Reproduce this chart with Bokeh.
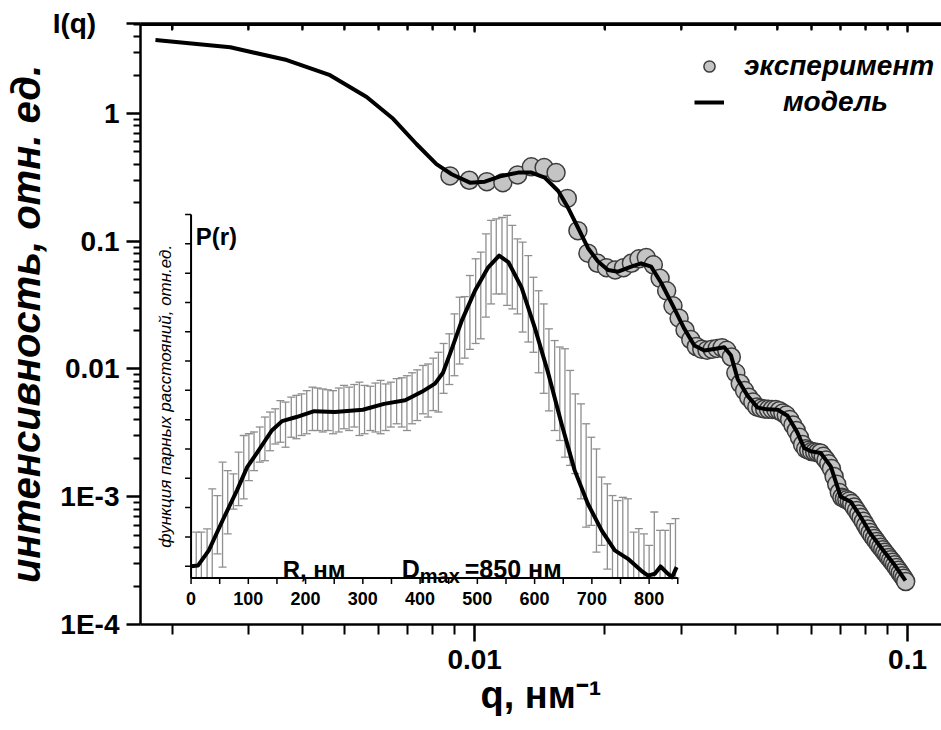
import math
from bokeh.plotting import figure
from bokeh.models import (Range1d, LogAxis, FixedTicker, Legend, LegendItem,
                          Whisker, TeeHead, ColumnDataSource, Label, LinearScale)
from bokeh.embed import file_html
from bokeh.resources import INLINE
from bokeh.core.properties import value

FONT = "Liberation Sans"
NB = "\u00a0"

# ---------------- main curve I(q): model ----------------
q_model = [0.001831, 0.002726, 0.003682, 0.004634, 0.005631, 0.006483, 0.007338, 0.008161,
           0.008851, 0.009754, 0.01056, 0.01154, 0.01261, 0.01353, 0.01452, 0.0156, 0.01644,
           0.01734, 0.01828, 0.01928, 0.02033, 0.02144, 0.023, 0.02425, 0.02557, 0.02697,
           0.02893, 0.03051, 0.03217, 0.03392, 0.03577, 0.03773, 0.03911, 0.04052, 0.04272,
           0.04505, 0.04751, 0.0501, 0.05282, 0.0557, 0.05769, 0.05977, 0.06301, 0.06646,
           0.07007, 0.07389, 0.07792, 0.08217, 0.08666, 0.09298, 0.0989]
I_model = [3.764, 3.297, 2.618, 1.994, 1.345, 0.908, 0.5768, 0.4013, 0.3345, 0.2872, 0.2924,
           0.3243, 0.3443, 0.3443, 0.3145, 0.2471, 0.1824, 0.1269, 0.0882, 0.06929, 0.05959,
           0.05778, 0.06327, 0.06718, 0.06327, 0.04733, 0.02969, 0.02064, 0.01527, 0.01394,
           0.01435, 0.01481, 0.01273, 0.008323, 0.006158, 0.004981, 0.004829, 0.004802,
           0.004306, 0.003162, 0.002408, 0.002268, 0.002199, 0.001728, 0.001002, 0.000915,
           0.000697, 0.000514, 0.000404, 0.000298, 0.0002203]

# ---------------- main curve I(q): experiment ----------------
q_exp = [0.00877, 0.00972, 0.01067, 0.01162, 0.01257, 0.01352, 0.01447, 0.01542, 0.01637,
         0.01732, 0.01827, 0.01922, 0.02017, 0.02112, 0.02207, 0.02302, 0.02397, 0.02492,
         0.02587, 0.02682, 0.02777, 0.02872, 0.02967, 0.03062, 0.03157, 0.03252, 0.03347,
         0.03442, 0.03537, 0.03632, 0.03727, 0.03822, 0.03917, 0.04012, 0.04107, 0.04202,
         0.04297, 0.04392, 0.04487, 0.04582, 0.04677, 0.04772, 0.04867, 0.04962, 0.05057,
         0.05152, 0.05247, 0.05342, 0.05437, 0.05532, 0.05627, 0.05722, 0.05817, 0.05912,
         0.06007, 0.06102, 0.06197, 0.06292, 0.06387, 0.06482, 0.06577, 0.06672, 0.06767,
         0.06862, 0.06957, 0.07052, 0.07147, 0.07242, 0.07337, 0.07432, 0.07527, 0.07622,
         0.07717, 0.07812, 0.07907, 0.08002, 0.08097, 0.08192, 0.08287, 0.08382, 0.08477,
         0.08572, 0.08667, 0.08762, 0.08857, 0.08952, 0.09047, 0.09142, 0.09237, 0.09332,
         0.09427, 0.09522, 0.09617, 0.09712, 0.09807, 0.09902]
I_exp = [0.3243, 0.3000, 0.2924, 0.2872, 0.3303, 0.3819, 0.3771, 0.3443, 0.2163, 0.1210,
         0.0806, 0.0672, 0.0621, 0.0596, 0.0621, 0.0672, 0.0728, 0.0745, 0.0653, 0.0512,
         0.0409, 0.0312, 0.0250, 0.0202, 0.0170, 0.0150, 0.01425, 0.01404, 0.01425, 0.01448,
         0.01469, 0.01399, 0.01241, 0.00933, 0.00770, 0.00677, 0.00601, 0.00551, 0.00505,
         0.00493, 0.00487, 0.00483, 0.00482, 0.00481, 0.00471, 0.00453, 0.00436, 0.00403,
         0.00364, 0.00330, 0.00292, 0.00256, 0.00237, 0.00231, 0.00226, 0.00224, 0.00222,
         0.00220, 0.00207, 0.00194, 0.00181, 0.00166, 0.00144, 0.00125, 0.00108, 0.000991,
         0.000968, 0.000947, 0.000927, 0.000887, 0.000831, 0.000781, 0.000732, 0.000687,
         0.000642, 0.000598, 0.000560, 0.000524, 0.000495, 0.000471, 0.000447, 0.000424,
         0.000403, 0.000385, 0.000367, 0.000351, 0.000335, 0.000321, 0.000307, 0.000293,
         0.000279, 0.000266, 0.000253, 0.000241, 0.000230, 0.000217]

# ---------------- inset P(r) ----------------
r_model = [0, 12, 31, 55, 80, 98, 116, 141, 159, 184, 215, 251, 300, 337, 374, 403, 426, 440,
           456, 473, 496, 519, 538, 554, 577, 600, 624, 647, 670, 693, 717, 740, 763, 786, 798,
           810, 820, 833, 840, 848]
p_model = [0, 0.02, 0.54, 1.56, 2.58, 3.38, 3.89, 4.63, 4.95, 5.09, 5.29, 5.26, 5.34, 5.54,
           5.66, 5.95, 6.23, 6.6, 7.45, 8.39, 9.41, 10.2, 10.6, 10.38, 9.52, 8.16, 6.57, 4.86,
           3.27, 2.13, 1.22, 0.54, 0.25, -0.15, -0.32, -0.26, -0.01, -0.26, -0.38, -0.03]

r_err = [9, 18, 28, 37, 46, 55, 64, 74, 83, 92, 101, 110, 120, 129, 138, 147, 156, 165, 175,
         184, 193, 202, 212, 221, 230, 239, 248, 258, 267, 276, 285, 294, 303, 313, 322, 331,
         340, 349, 359, 368, 377, 386, 395, 405, 414, 423, 432, 441, 451, 460, 469, 478, 487,
         497, 506, 515, 524, 533, 543, 552, 561, 570, 579, 589, 598, 607, 616, 625, 635, 644,
         653, 662, 671, 681, 690, 699, 708, 717, 727, 736, 745, 754, 763, 773, 782, 791, 800,
         809, 819, 828, 837, 846]
err_lo = [-0.4, -0.4, -0.4, -0.4, 0.42, -0.03, 1.1, 1.95, 2.07, 2.3, 2.92, 3.26, 3.55, 3.6,
          3.94, 4.17, 4.23, 4.06, 4.4, 4.35, 4.46, 4.52, 4.63, 4.63, 4.58, 4.63, 4.52, 4.58,
          4.69, 4.63, 4.75, 4.46, 4.52, 4.63, 4.58, 4.52, 4.63, 4.75, 4.86, 4.75, 4.63, 4.86,
          4.97, 5.2, 5.09, 5.31, 5.26, 5.9, 6.2, 6.5, 6.9, 7.1, 7.4, 7.6, 7.76, 8.5, 8.95,
          9.29, 9.29, 8.9, 8.78, 8.61, 7.99, 7.65, 7.3, 6.6, 5.9, 5.3, 4.63, 4.29, 3.72, 3.44,
          3.16, 2.3, 1.33, 1.39, 0.48, 0.71, -0.1, -0.4, -0.4, -0.4, -0.4, -0.4, -0.4, -0.4,
          -0.4, -0.4, -0.4, -0.4, -0.4, -0.4]
err_hi = [1.16, 1.16, 1.27, 2.64, 2.41, 3.55, 3.26, 3.15, 3.89, 4.46, 4.52, 4.58, 4.75, 5.09,
          5.26, 5.37, 5.65, 5.6, 5.77, 5.83, 5.88, 5.99, 6.11, 6.08, 6.05, 6.02, 5.99, 6.08,
          6.17, 6.11, 6.2, 6.28, 6.17, 6.14, 6.25, 6.34, 6.22, 6.28, 6.4, 6.43, 6.5, 6.6, 6.7,
          6.85, 6.9, 7.1, 7.3, 7.6, 7.93, 8.61, 9.18, 9.2, 9.92, 10.49, 10.72, 11.34, 11.8,
          11.85, 11.9, 11.97, 11.63, 11.17, 11.06, 10.6, 9.86, 9.4, 8.95, 8.1, 7.7, 7.48, 7.42,
          6.68, 5.88, 5.54, 4.86, 4.4, 4.0, 3.04, 2.81, 2.41, 2.24, 2.35, 2.3, 1.16, 1.28, 1.1,
          0.71, 1.85, 1.22, 1.22, 1.45, 1.62]

# inset axis definition
r_ticks = [0, 100, 200, 300, 400, 500, 600, 700, 800]
r_tick_labels = ["0", "100", "200", "300", "400", "500", "600", "700", "800"]
r_minor = [50, 150, 250, 350, 450, 550, 650, 750, 850]
r_axis_min, r_axis_max = 0, 850
pr_ticks = [0, 1, 2, 3, 4, 5, 6, 7, 8, 9, 10, 11, 12]
pr_axis_min, pr_axis_max = -0.4, 12

# main axis ticks (the top of the intensity axis carries the "I(q)" caption)
Q_MIN, Q_MAX = 0.001691, 0.1198
I_MIN, I_TOP = 1e-4, 5.06
q_ticks = [0.01, 0.1]
q_minor = [0.002, 0.003, 0.004, 0.005, 0.006, 0.007, 0.008, 0.009,
           0.02, 0.03, 0.04, 0.05, 0.06, 0.07, 0.08, 0.09]
i_ticks = [0.0001, 0.001, 0.01, 0.1, 1.0, I_TOP]
i_minor = [m * d for d in [1e-4, 1e-3, 1e-2, 1e-1, 1] for m in range(2, 10)
           if m * d < I_TOP]
i_labels = {0.0001: "1E-4", 0.001: "1E-3", 0.01: "0.01", 0.1: "0.1", 1.0: "1",
            I_TOP: "I(q)" + NB * 3}
q_labels = {0.01: "0.01", 0.1: "0.1"}

# ---------------- figure ----------------
W, H = 941, 730
FL, FT, FB = 138, 23, 106          # frame borders (left, top, bottom)
FW, FH = W - FL, H - FT - FB
RX = Range1d(-88.3, 1310.6)
RY = Range1d(-1.99, 18.52)
p = figure(width=W, height=H, x_axis_type="log", y_axis_type="log",
           x_range=Range1d(Q_MIN, Q_MAX), y_range=Range1d(I_MIN, I_TOP),
           output_backend="svg", toolbar_location=None,
           min_border_left=FL, min_border_right=0, min_border_top=FT, min_border_bottom=FB)
p.outline_line_color = None
p.xgrid.visible = False
p.ygrid.visible = False

p.extra_x_ranges = {"rx": RX}
p.extra_y_ranges = {"ry": RY}
p.extra_x_scales = {"rx": LinearScale()}
p.extra_y_scales = {"ry": LinearScale()}

# main axes
xa = p.xaxis[0]
xa.ticker = FixedTicker(ticks=q_ticks, minor_ticks=q_minor)
xa.major_label_overrides = q_labels
xa.axis_label = "q, нм⁻¹"
ya = p.yaxis[0]
ya.ticker = FixedTicker(ticks=i_ticks, minor_ticks=i_minor)
ya.major_label_overrides = i_labels
ya.axis_label = "интенсивность, отн. ед."

for ax in (xa, ya):
    ax.axis_line_width = 2.5
    ax.major_tick_line_width = 2.5
    ax.minor_tick_line_width = 2
    ax.major_tick_in = 0
    ax.minor_tick_in = 0
    ax.major_label_text_font = FONT
    ax.major_label_text_font_style = "bold"
    ax.major_label_text_font_size = "28px"
    ax.major_label_text_color = "black"
    ax.axis_label_text_font = FONT
    ax.axis_label_text_color = "black"

xa.major_tick_out = 17
xa.minor_tick_out = 10
xa.major_label_standoff = 8
xa.axis_label_text_font_style = "bold"
xa.axis_label_text_font_size = "38px"
xa.axis_label_standoff = 2

ya.major_tick_out = 14
ya.minor_tick_out = 7
ya.major_label_standoff = 7
ya.axis_label_text_font_style = "bold italic"
ya.axis_label_text_font_size = "40px"
ya.axis_label_standoff = 2

top = LogAxis(ticker=FixedTicker(ticks=q_ticks, minor_ticks=q_minor),
              major_label_text_font_size="4px", major_label_text_alpha=0,
              major_label_standoff=0, axis_line_width=2.5,
              major_tick_in=8, major_tick_out=0, minor_tick_in=6, minor_tick_out=0,
              major_tick_line_width=2, minor_tick_line_width=2)
p.add_layout(top, "above")

# top frame line with inward ticks (drawn in data space so it is always visible)
dec_per_px = math.log10(I_TOP / I_MIN) / FH
p.segment(x0=[Q_MIN], y0=[I_TOP], x1=[Q_MAX], y1=[I_TOP], line_color="black", line_width=5)
p.segment(x0=q_ticks, y0=[I_TOP] * len(q_ticks), x1=q_ticks,
          y1=[I_TOP * 10 ** (-9 * dec_per_px)] * len(q_ticks), line_color="black",
          line_width=2)
p.segment(x0=q_minor, y0=[I_TOP] * len(q_minor), x1=q_minor,
          y1=[I_TOP * 10 ** (-7 * dec_per_px)] * len(q_minor), line_color="black",
          line_width=2)

# ---------------- inset ----------------
bar_col = "#8f8f8f"
err_src = ColumnDataSource(dict(r=r_err, lo=err_lo, hi=err_hi))
w = Whisker(base="r", lower="lo", upper="hi", source=err_src, dimension="height",
            x_range_name="rx", y_range_name="ry", line_color=bar_col, line_width=1.3,
            upper_head=TeeHead(size=8, line_color=bar_col, line_width=1.3),
            lower_head=TeeHead(size=8, line_color=bar_col, line_width=1.3))
p.add_layout(w)

p.line(r_model, p_model, x_range_name="rx", y_range_name="ry", line_color="black",
       line_width=4, line_join="round")

# inset axes drawn from the tick lists (pixel tick lengths converted to range units)
px_x = (RX.end - RX.start) / FW
px_y = (RY.end - RY.start) / FH
all_r = r_ticks + r_minor
p.segment(x0=[r_axis_min], y0=[pr_axis_min], x1=[r_axis_max], y1=[pr_axis_min],
          x_range_name="rx", y_range_name="ry", line_color="black", line_width=2)
p.segment(x0=all_r, y0=[pr_axis_min] * len(all_r), x1=all_r,
          y1=[pr_axis_min - 6 * px_y] * len(all_r),
          x_range_name="rx", y_range_name="ry", line_color="black", line_width=1.5)
p.segment(x0=[r_axis_min], y0=[pr_axis_min], x1=[r_axis_min], y1=[pr_axis_max],
          x_range_name="rx", y_range_name="ry", line_color="black", line_width=2)
p.segment(x0=[r_axis_min] * len(pr_ticks), y0=pr_ticks,
          x1=[r_axis_min - 6 * px_x] * len(pr_ticks), y1=pr_ticks,
          x_range_name="rx", y_range_name="ry", line_color="black", line_width=1.5)
p.text(x=r_ticks, y=[pr_axis_min] * len(r_ticks), text=r_tick_labels, y_offset=14,
       x_range_name="rx", y_range_name="ry", text_align="center", text_baseline="top",
       text_font=value(FONT), text_font_style="bold", text_font_size="18px",
       text_color="black")
p.text(x=[r_axis_min], y=[(pr_axis_min + pr_axis_max) / 2],
       text=["функция парных расстояний, отн.ед."], x_offset=-26, angle=math.pi / 2,
       x_range_name="rx", y_range_name="ry", text_align="center", text_baseline="middle",
       text_font=value(FONT), text_font_style="italic", text_font_size="17px",
       text_color="black")

# ---------------- main data ----------------
exp_r = p.scatter(q_exp, I_exp, marker="circle", size=18, fill_color="#c4c4c4",
                  line_color="#3c3c3c", line_width=1.5)
model_r = p.line(q_model, I_model, line_color="black", line_width=4, line_join="round")

legend = Legend(items=[LegendItem(label="эксперимент", renderers=[exp_r]),
                       LegendItem(label=NB * 5 + "модель", renderers=[model_r])],
                location=(554, 506), padding=0, margin=0, spacing=4,
                background_fill_alpha=0, border_line_color=None,
                label_text_font=FONT, label_text_font_style="bold italic",
                label_text_color="black",
                label_text_font_size="28px", glyph_width=30, glyph_height=28,
                label_height=28, label_standoff=20)
p.add_layout(legend)

# ---------------- inset texts ----------------
def lab(**kw):
    base = dict(text_font=FONT, text_color="black", x_range_name="rx", y_range_name="ry")
    base.update(kw)
    p.add_layout(Label(**base))

lab(x=8, y=11.7, text="P(r)", text_font_size="24px", text_font_style="bold",
    text_baseline="top")
lab(x=160, y=-0.1, text="R, нм", text_font_size="24px", text_font_style="bold",
    text_baseline="alphabetic")
lab(x=368, y=-0.1, text="D", text_font_size="25px", text_font_style="bold",
    text_baseline="alphabetic")
lab(x=368, y=-0.1, x_offset=18, y_offset=-7, text="max", text_font_size="20px",
    text_font_style="bold", text_baseline="alphabetic")
lab(x=368, y=-0.1, x_offset=63, text="=850 нм", text_font_size="25px",
    text_font_style="bold", text_baseline="alphabetic")

open("out.html", "w").write(file_html(p, INLINE))
